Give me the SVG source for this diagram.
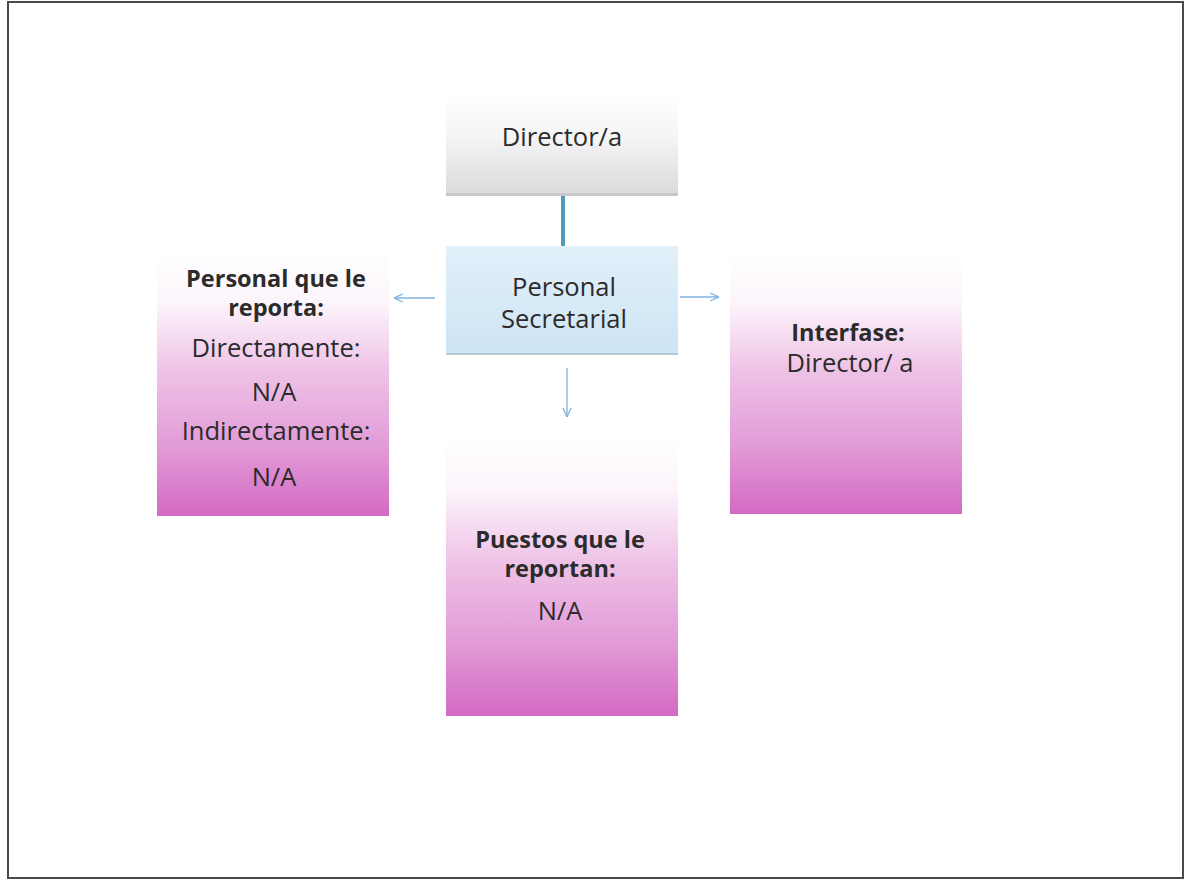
<svg xmlns="http://www.w3.org/2000/svg" width="1185" height="881" viewBox="0 0 1185 881">
<style>
.t{font-family:"Open Sans","Noto Sans","DejaVu Sans",sans-serif;font-size:25.5px;fill:#2b2b2b;text-anchor:middle}
.b{font-weight:bold;font-size:23.5px}
.arr{stroke:#7fb2df;stroke-width:1.3;fill:none}
</style>
<defs>
<linearGradient id="gGray" x1="0" y1="0" x2="0" y2="1">
<stop offset="0" stop-color="#ffffff"/>
<stop offset="0.45" stop-color="#f4f4f5"/>
<stop offset="1" stop-color="#d9d9dc"/>
</linearGradient>
<linearGradient id="gBlue" x1="0" y1="0" x2="0" y2="1">
<stop offset="0" stop-color="#e2f0fa"/>
<stop offset="1" stop-color="#cde4f3"/>
</linearGradient>
<linearGradient id="gPink" x1="0" y1="0" x2="0" y2="1">
<stop offset="0" stop-color="#ffffff"/>
<stop offset="0.2" stop-color="#fcf5fb"/>
<stop offset="0.45" stop-color="#efc3e7"/>
<stop offset="0.75" stop-color="#e19ad6"/>
<stop offset="1" stop-color="#d469c3"/>
</linearGradient>
<marker id="ah" viewBox="0 0 10 10" refX="10" refY="5" markerWidth="10" markerHeight="10" markerUnits="userSpaceOnUse" orient="auto">
<path d="M1,1 L10,5 L1,9" fill="none" stroke="#7fb2df" stroke-width="1.3"/>
</marker>
</defs>
<rect x="0" y="0" width="1185" height="881" fill="#ffffff"/>
<rect x="8" y="2" width="1175" height="876" fill="none" stroke="#4a4a4a" stroke-width="2"/>
<g id="connectors">
<line x1="563" y1="196" x2="563" y2="246" stroke="#4b9dbb" stroke-width="4"/>
<line class="arr" x1="435" y1="298" x2="394" y2="298" marker-end="url(#ah)"/>
<line class="arr" x1="680" y1="297" x2="719" y2="297" marker-end="url(#ah)"/>
<line class="arr" x1="567" y1="368" x2="567" y2="417" marker-end="url(#ah)"/>
</g>
<g id="director">
<rect x="446" y="93" width="232" height="103" fill="url(#gGray)"/>
<rect x="446" y="193" width="232" height="3" fill="#c8c8cc"/>
<text class="t" x="562" y="146">Director/a</text>
</g>
<g id="secretarial">
<rect x="446" y="246" width="232" height="109" fill="url(#gBlue)"/>
<rect x="446" y="353" width="232" height="2" fill="#b9c6cf"/>
<text class="t" x="564" y="296">Personal</text>
<text class="t" x="564" y="328">Secretarial</text>
</g>
<g id="personal">
<rect x="157" y="250" width="232" height="266" fill="url(#gPink)"/>
<text class="t b" x="276" y="287">Personal que le</text>
<text class="t b" x="276" y="316">reporta:</text>
<text class="t" x="276" y="357">Directamente:</text>
<text class="t" x="274" y="401">N/A</text>
<text class="t" x="276" y="440">Indirectamente:</text>
<text class="t" x="274" y="486">N/A</text>
</g>
<g id="interfase">
<rect x="730" y="250" width="232" height="264" fill="url(#gPink)"/>
<text class="t b" x="848" y="341">Interfase:</text>
<text class="t" x="850" y="372">Director/ a</text>
</g>
<g id="puestos">
<rect x="446" y="433" width="232" height="283" fill="url(#gPink)"/>
<text class="t b" x="560" y="548">Puestos que le</text>
<text class="t b" x="560" y="577">reportan:</text>
<text class="t" x="560" y="620">N/A</text>
</g>
</svg>
